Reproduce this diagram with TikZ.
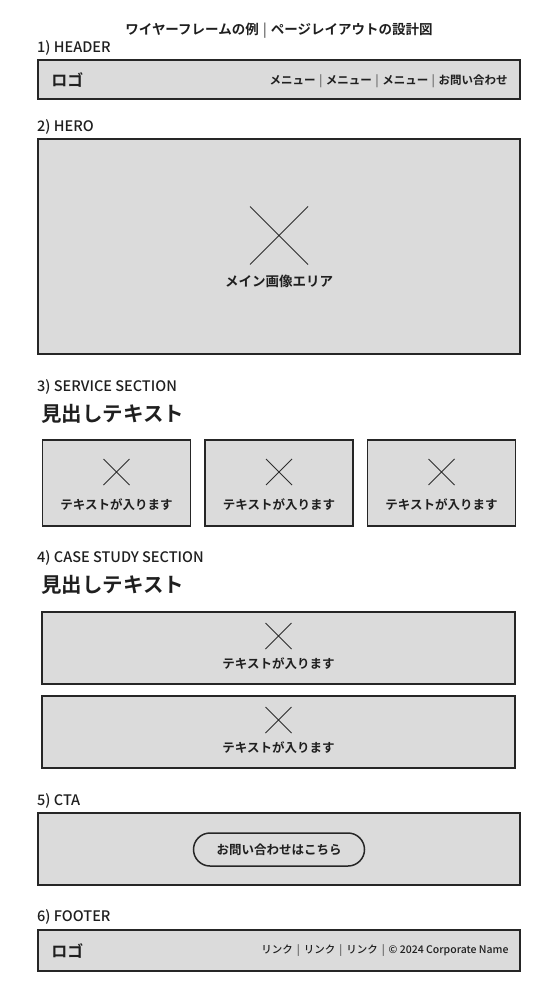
\documentclass[tikz,border=0pt]{standalone}
\usepackage{fontspec}
\setmainfont{Noto Sans CJK JP}[BoldFont={Noto Sans CJK JP Bold}]
\newfontfamily\labelfont{Noto Sans CJK JP Medium}
\usetikzlibrary{calc,positioning}
\def\placeholder(#1)(#2){\draw[cross] ($(#1)+(-#2,-#2)$) -- ($(#1)+(#2,#2)$) ($(#1)+(#2,-#2)$) -- ($(#1)+(-#2,#2)$);}
\def\sep{{\hspace{0.3em}\color{black!55}|\hspace{0.3em}}}
\def\widesep{{\hspace{0.38em}\color{black!70}|\hspace{0.38em}}}

\begin{document}
\begin{tikzpicture}[x=1pt, y=-1pt,
    panel/.style={draw=black!85, line width=1.5pt, fill=black!14, inner sep=0pt},
    cross/.style={draw=black!82, line width=0.9pt},
    seclabel/.style={anchor=west, inner sep=0pt, text=black!88, font=\fontsize{14.5}{16}\labelfont},
    heading/.style={anchor=west, inner sep=0pt, text=black!88, font=\fontsize{20.5}{22}\selectfont\bfseries},
    caption/.style={inner sep=0pt, text=black!88, font=\fontsize{12.5}{14}\selectfont\bfseries},
    logo/.style={inner sep=0pt, text=black!88, font=\fontsize{16}{18}\selectfont\bfseries}]
    %%%%% START %%%%%

    \fill[white] (0,0) rectangle (558,1000);
    \useasboundingbox (0,0) rectangle (558,1000);

    \node[inner sep=0pt, text=black!88, font=\fontsize{13.5}{15}\selectfont\bfseries] (title) at (279,31)
        {ワイヤーフレームの例\sep ページレイアウトの設計図};

    % header
    \node[seclabel] (lblheader) at (37,48) {1) HEADER};
    \node[panel, minimum width=482pt, minimum height=39pt] (header) at (279,79.5) {};
    \node[logo, right=14pt of header.west] (hlogo) {ロゴ};
    \node[caption, font=\fontsize{11.5}{13}\selectfont\bfseries, left=13pt of header.east, yshift=-1.5pt] (hmenu)
        {メニュー\sep メニュー\sep メニュー\sep お問い合わせ};

    % hero
    \node[seclabel] (lblhero) at (37,127) {2) HERO};
    \node[panel, minimum width=482pt, minimum height=215pt] (hero) at (279,246.5) {};
    \placeholder(279,235.5)(29)
    \node[caption, font=\fontsize{13.5}{15}\selectfont\bfseries] (herotext) at (279,281) {メイン画像エリア};

    % service
    \node[seclabel] (lblservice) at (37,387) {3) SERVICE SECTION};
    \node[heading] (svchead) at (41,414) {見出しテキスト};
    \foreach \cx [count=\i] in {116.5, 279, 441.5} {
        \node[panel, minimum width=148pt, minimum height=86pt] (svc\i) at (\cx,483) {};
        \placeholder(\cx,472)(13)
        \node[caption] (svctext\i) at (\cx,505) {テキストが入ります};
    }

    % case study
    \node[seclabel] (lblcase) at (37,558) {4) CASE STUDY SECTION};
    \node[heading] (casehead) at (41,585) {見出しテキスト};
    \foreach \cy [count=\i] in {648, 732} {
        \node[panel, minimum width=473pt, minimum height=72pt] (case\i) at (278.5,\cy) {};
        \placeholder(278.5,\cy-12)(13)
        \node[caption] (casetext\i) at (278.5,\cy+16) {テキストが入ります};
    }

    % cta
    \node[seclabel] (lblcta) at (37,801) {5) CTA};
    \node[panel, minimum width=482pt, minimum height=72pt] (cta) at (279,849) {};
    \node[draw=black!85, line width=1.5pt, rounded corners=16.5pt, minimum width=171pt, minimum height=33pt,
        caption] (ctabutton) at (279,849.5) {お問い合わせはこちら};

    % footer
    \node[seclabel] (lblfooter) at (37,917) {6) FOOTER};
    \node[panel, minimum width=482pt, minimum height=41pt] (footer) at (279,950.5) {};
    \node[logo, right=14pt of footer.west] (flogo) {ロゴ};
    \node[inner sep=0pt, text=black!88, font=\fontsize{10.5}{12}\labelfont, left=12pt of footer.east] (flinks)
        {リンク\widesep リンク\widesep リンク\widesep © 2024 Corporate Name};

    %%%%% END %%%%%
\end{tikzpicture}
\end{document}
